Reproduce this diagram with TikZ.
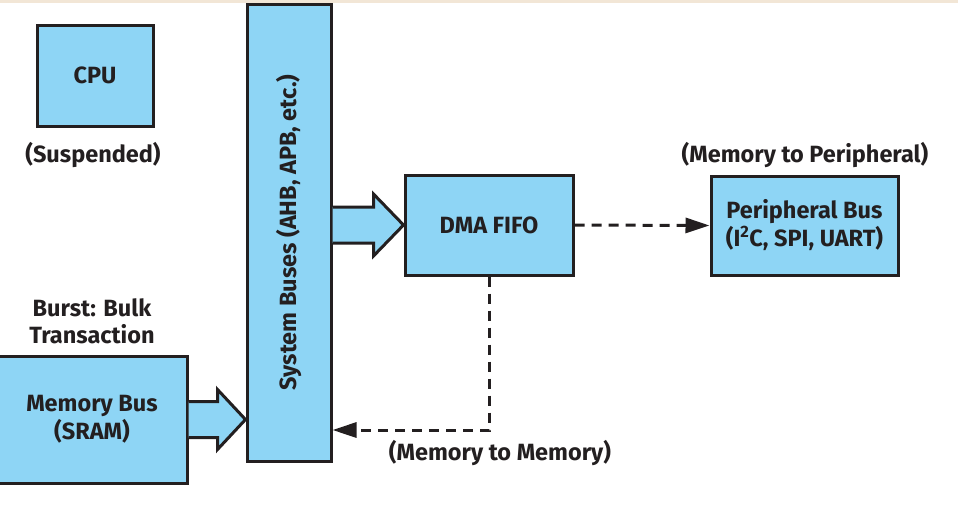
\documentclass[tikz,border=0pt]{standalone}
\usepackage{fontspec}
\setmainfont{Fira Sans}
\usetikzlibrary{arrows.meta,calc}
\definecolor{boxblue}{RGB}{142,213,245}
\definecolor{ink}{RGB}{35,31,32}
\definecolor{beige}{RGB}{242,230,214}
\tikzset{
  blk/.style={draw=ink, fill=boxblue, line width=3pt, inner sep=0pt, align=center,
    font=\fontsize{23.5}{28}\selectfont\bfseries, text=ink},
  lbl/.style={font=\fontsize{23.5}{27}\selectfont\bfseries, text=ink, align=center, inner sep=0pt},
  barrow/.style={draw=ink, fill=boxblue, line width=3pt, line join=miter},
  dflow/.style={draw=ink, line width=3pt, dash pattern=on 10pt off 7pt,
    -{Triangle[length=24pt,width=15pt]}}
}
\begin{document}
\begin{tikzpicture}[x=1pt,y=-1pt]
\useasboundingbox (0,0) rectangle (958,520);
\fill[beige] (0,0) rectangle (958,3);
% boxes
\node[blk, minimum width=116pt, minimum height=101pt] (cpu) at (95,75.5) {CPU};
\node[lbl] (susp) at (93,155) {(Suspended)};
\node[blk, minimum width=84pt, minimum height=457pt] (sys) at (289,232.5) {};
\node[lbl, rotate=90] (syslbl) at (sys.center) {System Buses (AHB, APB, etc.)};
\node[blk, minimum width=168pt, minimum height=100pt] (dma) at (489,225) {DMA FIFO};
\node[blk, minimum width=187pt, minimum height=99pt] (per) at (804.5,225.5) {Peripheral Bus\\(I\textsuperscript{2}C, SPI, UART)};
\node[lbl] (m2p) at (805,155) {(Memory to Peripheral)};
\node[blk, minimum width=190pt, minimum height=127pt] (mem) at (92,419.5) {Memory Bus\\(SRAM)};
\node[lbl] (burst) at (92,321) {Burst: Bulk\\Transaction};
\node[lbl] (m2m) at (500,453) {(Memory to Memory)};
% block arrows
\coordinate (a1) at (mem.east);
\coordinate (b1) at (sys.west |- mem.east);
\draw[barrow] (a1) ++(0,-18) -- ($(b1)+(-28,-18)$) -- ($(b1)+(-28,-30)$) -- (b1)
  -- ($(b1)+(-28,30)$) -- ($(b1)+(-28,18)$) -- ($(a1)+(0,18)$);
\coordinate (a2) at (sys.east |- dma.west);
\coordinate (b2) at (dma.west);
\draw[barrow] (a2) ++(0,-18) -- ($(b2)+(-30,-18)$) -- ($(b2)+(-30,-31)$) -- (b2)
  -- ($(b2)+(-30,31)$) -- ($(b2)+(-30,18)$) -- ($(a2)+(0,18)$);
% dashed flows
\draw[dflow] (dma.east) -- (per.west);
\coordinate (corner) at (dma.south |- 0,430);
\draw[dflow] (dma.south) -- (corner) -- (sys.east |- corner);
\end{tikzpicture}
\end{document}
